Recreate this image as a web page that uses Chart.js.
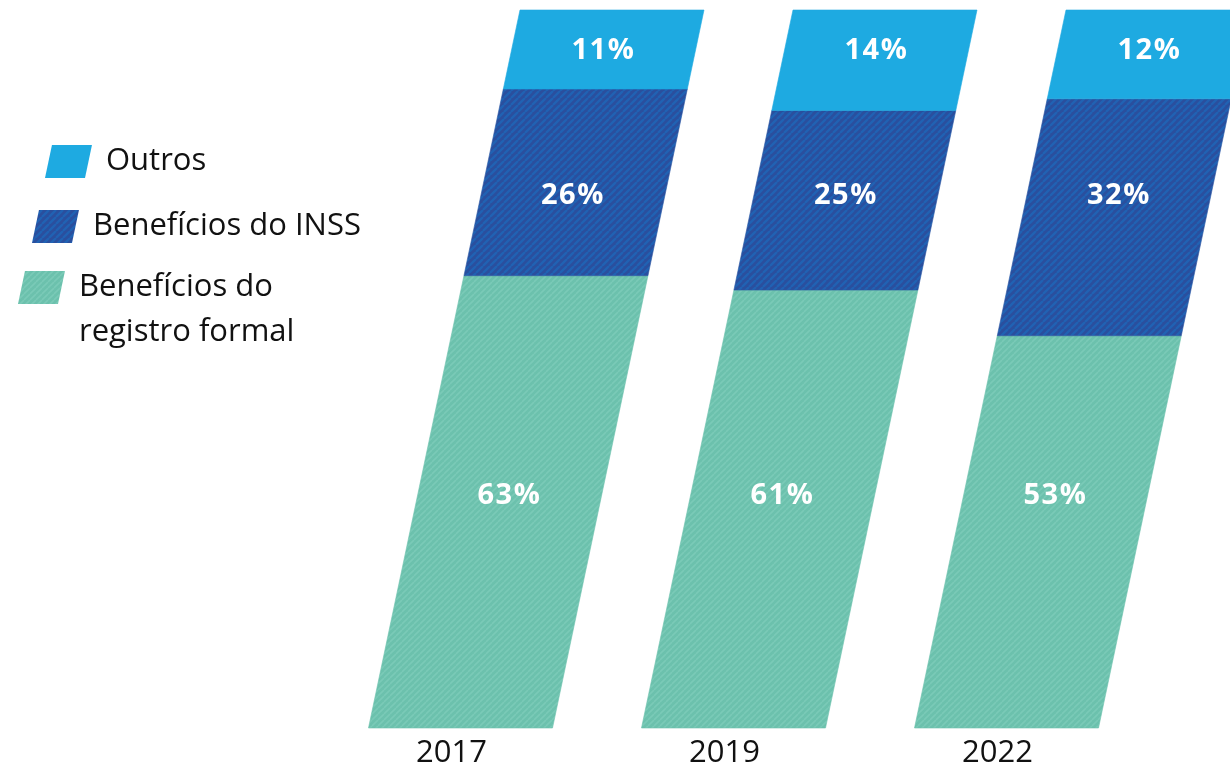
<!DOCTYPE html>
<html><head><meta charset="utf-8">
<script src="https://cdn.jsdelivr.net/npm/chart.js@4"></script>
<style>html,body{margin:0;padding:0;background:#fff}#wrap{width:1230px;height:767px;position:relative}</style>
</head><body><div id="wrap"><canvas id="c" width="1230" height="767"></canvas></div>
<script>
// ---- data ----
const categories = ['2017', '2019', '2022'];
const seriesNames = ['Benefícios do registro formal', 'Benefícios do INSS', 'Outros'];
const registroFormal = [63, 61, 53];
const beneficiosINSS = [26, 25, 32];
const outros = [11, 14, 12];

// share of each bar (bars are full-height 100% stacks)
const totals = categories.map((_, i) => registroFormal[i] + beneficiosINSS[i] + outros[i]);
const share = arr => arr.map((v, i) => v / totals[i] * 100);

function makePattern(base, stripe, period, lw) {
  const c = document.createElement('canvas');
  c.width = c.height = period;
  const x = c.getContext('2d');
  x.fillStyle = base; x.fillRect(0, 0, period, period);
  x.strokeStyle = stripe; x.lineWidth = lw;
  x.beginPath();
  for (let k = -1; k <= 1; k++) { x.moveTo(k * period, period); x.lineTo(k * period + period, 0); }
  x.stroke();
  return document.createElement('canvas').getContext('2d').createPattern(c, 'repeat');
}

const SLANT = 0.211;
const legendSwatch = { 'Outros': [45, 178], 'Benefícios do INSS': [32, 243], 'Benefícios do registro formal': [18, 304] };

const slantBars = {
  id: 'slantBars',
  beforeDatasetsDraw(chart) {
    const ctx = chart.ctx;
    const base = chart.scales.y.getPixelForValue(0);
    ctx.save();
    chart.data.datasets.forEach((ds, di) => {
      const meta = chart.getDatasetMeta(di);
      meta.data.forEach(bar => {
        const p = bar.getProps(['x', 'y', 'base', 'width'], true);
        const h = p.width / 2;
        const top = Math.min(p.y, p.base), bot = Math.max(p.y, p.base);
        const sT = (base - top) * SLANT, sB = (base - bot) * SLANT;
        ctx.beginPath();
        ctx.moveTo(p.x - h + sB, bot); ctx.lineTo(p.x + h + sB, bot);
        ctx.lineTo(p.x + h + sT, top); ctx.lineTo(p.x - h + sT, top);
        ctx.closePath();
        ctx.fillStyle = ds.backgroundColor;
        ctx.fill();
        ctx.strokeStyle = ds.seamColor; ctx.lineWidth = 0.6; ctx.stroke();
      });
    });
    ctx.restore();
    return false;
  },
  afterDraw(chart) {
    const ctx = chart.ctx;
    const ys = chart.scales.y;
    const base = ys.getPixelForValue(0);
    ctx.save();
    // value labels
    ctx.fillStyle = '#ffffff';
    ctx.font = 'bold 29px "Open Sans"';
    if ('letterSpacing' in ctx) ctx.letterSpacing = '1.5px';
    ctx.textAlign = 'center'; ctx.textBaseline = 'middle';
    chart.data.datasets.forEach((ds, di) => {
      chart.getDatasetMeta(di).data.forEach((bar, j) => {
        const y = ys.getPixelForValue(ds.labelAt);
        const x = bar.x + (base - y) * SLANT;
        ctx.fillText(ds.raw[j] + '%', x, y);
      });
    });
    if ('letterSpacing' in ctx) ctx.letterSpacing = '0px';
    // legend
    const items = chart.data.datasets.slice().reverse();
    items.forEach(ds => {
      const [bx, by] = legendSwatch[ds.label];
      const w = 40, hgt = 33, s = hgt * SLANT;
      ctx.beginPath();
      ctx.moveTo(bx, by); ctx.lineTo(bx + w, by);
      ctx.lineTo(bx + w + s, by - hgt); ctx.lineTo(bx + s, by - hgt); ctx.closePath();
      ctx.fillStyle = ds.backgroundColor; ctx.fill();
      ctx.fillStyle = '#111111';
      ctx.font = '31px "Open Sans"';
      ctx.textAlign = 'left'; ctx.textBaseline = 'middle';
      const tx = bx + w + s + 14;
      ds.legendLines.forEach((ln, k) => ctx.fillText(ln, tx, by - hgt / 2 + k * 45));
    });
    ctx.restore();
  }
};

const tealPat = makePattern('#6cc1ad', '#7acab7', 6, 1.6);
const bluePat = makePattern('#2a4f9e', '#2162b3', 7, 2.4);

new Chart(document.getElementById('c'), {
  type: 'bar',
  data: {
    labels: categories,
    datasets: [
      { label: seriesNames[0], data: share(registroFormal), raw: registroFormal, backgroundColor: tealPat, seamColor: '#6cc1ad', labelAt: 32.3, legendLines: ['Benefícios do', 'registro formal'] },
      { label: seriesNames[1], data: share(beneficiosINSS), raw: beneficiosINSS, backgroundColor: bluePat, seamColor: '#2a55a3', labelAt: 74.2, legendLines: ['Benefícios do INSS'] },
      { label: seriesNames[2], data: share(outros), raw: outros, backgroundColor: '#1eaae1', seamColor: '#1eaae1', labelAt: 94.3, legendLines: ['Outros'] }
    ]
  },
  options: {
    responsive: false,
    animation: false,
    devicePixelRatio: 1,
    layout: { padding: { left: 324, right: 87, top: 10, bottom: -12 } },
    datasets: { bar: { categoryPercentage: 1, barPercentage: 0.674 } },
    plugins: { legend: { display: false }, tooltip: { enabled: false } },
    scales: {
      x: {
        stacked: true,
        grid: { display: false, drawTicks: false },
        border: { display: false },
        ticks: { color: '#111111', maxRotation: 0, autoSkip: false, font: { family: '"Open Sans"', size: 31, lineHeight: 1 }, padding: 10, labelOffset: -9 }
      },
      y: { stacked: true, display: false, min: 0, max: 100 }
    }
  },
  plugins: [slantBars]
});
</script>
</body></html>
